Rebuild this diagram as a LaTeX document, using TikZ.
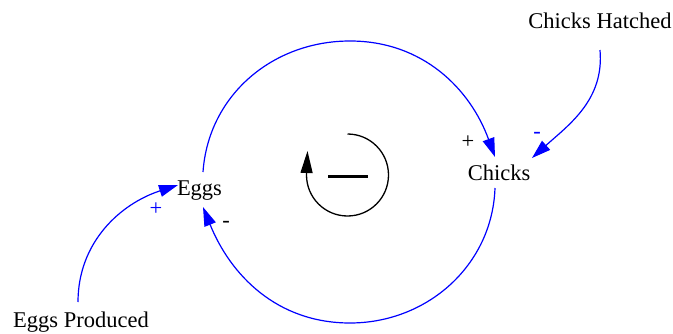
\documentclass[tikz,border=0pt]{standalone}
\usepackage{fontspec}
\setmainfont{Liberation Serif}
\usetikzlibrary{arrows.meta}
\definecolor{linkblue}{RGB}{0,0,255}
\tikzset{
  lbl/.style={inner sep=0pt, font=\fontsize{22.5}{27}\selectfont},
  pol/.style={inner sep=0pt, font=\fontsize{22.5}{27}\selectfont},
  link/.style={draw=linkblue, line width=1.2pt, -{Triangle[length=19pt,width=12pt]}},
  loopline/.style={line width=1.3pt},
}
\begin{document}
\begin{tikzpicture}[x=1pt,y=1pt]
\useasboundingbox (0,0) rectangle (673,333);
% variables
\node[lbl] (eggs) at (199.5,142) {Eggs};
\node[lbl] (chicks) at (499,160) {Chicks};
\node[lbl] (hatched) at (600,312) {Chicks Hatched};
\node[lbl] (produced) at (81,11) {Eggs Produced};
% helper points of the big loop
\coordinate (top) at (350,292);
\coordinate (bot) at (350,10);
% big loop links
\draw[link] ([xshift=3.5pt,yshift=19pt]eggs.center) to[out=86,in=180] (top)
  to[out=0,in=110] ([xshift=-4pt,yshift=16pt]chicks.center);
\draw[link] ([xshift=-4pt,yshift=-15pt]chicks.center) to[out=-92,in=0] (bot)
  to[out=180,in=-68] ([xshift=3.5pt,yshift=-16pt]eggs.center);
% external links
\draw[link] ([yshift=-29pt]hatched.center) to[out=-85,in=42] ([xshift=33pt,yshift=15pt]chicks.center);
\draw[link] ([xshift=-3pt,yshift=20pt]produced.center) to[out=90,in=198] ([xshift=-21.5pt,yshift=6pt]eggs.center);
% polarities
\node[pol] (p1) at (468,191) {+};
\node[pol, text=linkblue] (p2) at (537,198) {-};
\node[pol, text=linkblue] (p3) at (156,124) {+};
\node[pol] (p4) at (226,109) {-};
% loop symbol
\coordinate (lc) at (347.5,158);
\draw[loopline] ([yshift=41pt]lc) arc[start angle=90,end angle=-180,radius=41];
\draw[loopline, -{Triangle[length=22pt,width=12pt]}] ([xshift=-41pt]lc) -- ++(1,24);
\draw[line width=3pt] ([xshift=-19.5pt,yshift=-1pt]lc) -- ([xshift=20.5pt,yshift=-1pt]lc);
\end{tikzpicture}
\end{document}
